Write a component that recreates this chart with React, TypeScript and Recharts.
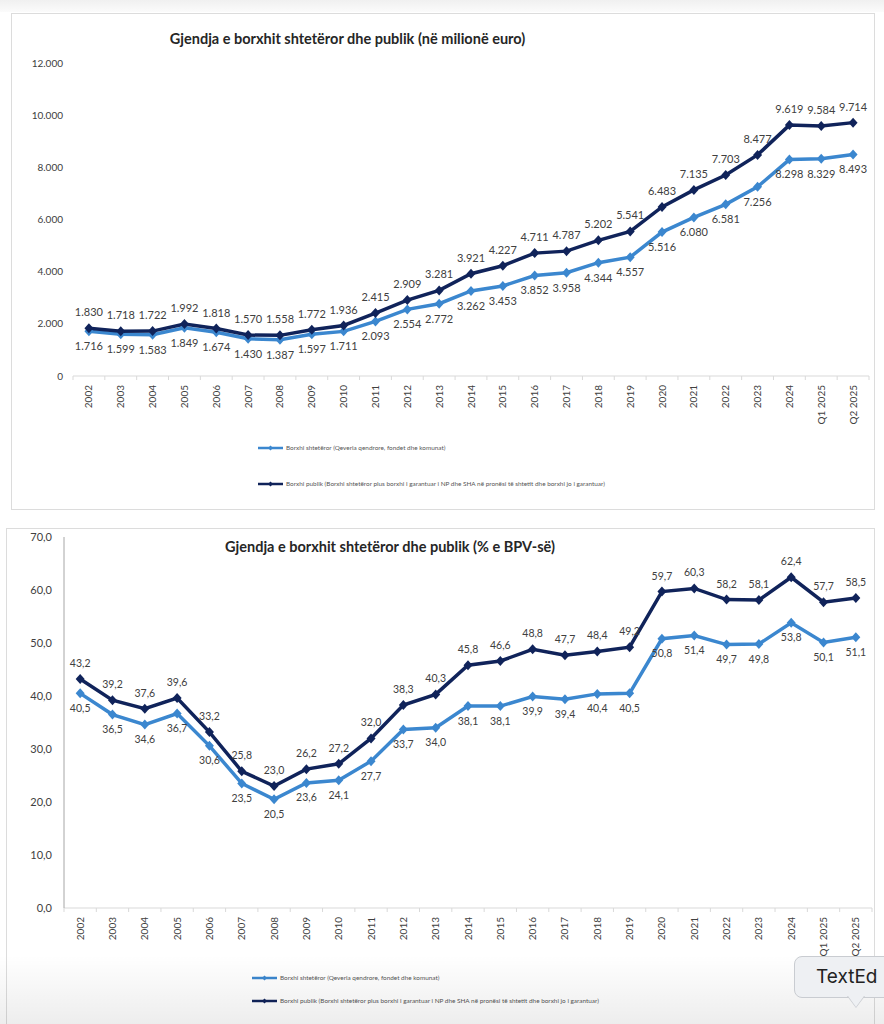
import { LineChart, Line, XAxis, YAxis, LabelList } from "recharts";

const categories = [
  "2002", "2003", "2004", "2005", "2006", "2007", "2008", "2009", "2010", "2011",
  "2012", "2013", "2014", "2015", "2016", "2017", "2018", "2019", "2020", "2021",
  "2022", "2023", "2024", "Q1 2025", "Q2 2025",
];

// millions of euro
const stateDebtEur = [
  1716, 1599, 1583, 1849, 1674, 1430, 1387, 1597, 1711, 2093, 2554, 2772, 3262,
  3453, 3852, 3958, 4344, 4557, 5516, 6080, 6581, 7256, 8298, 8329, 8493,
];
const publicDebtEur = [
  1830, 1718, 1722, 1992, 1818, 1570, 1558, 1772, 1936, 2415, 2909, 3281, 3921,
  4227, 4711, 4787, 5202, 5541, 6483, 7135, 7703, 8477, 9619, 9584, 9714,
];

// % of GDP
const stateDebtPct = [
  40.5, 36.5, 34.6, 36.7, 30.6, 23.5, 20.5, 23.6, 24.1, 27.7, 33.7, 34.0, 38.1,
  38.1, 39.9, 39.4, 40.4, 40.5, 50.8, 51.4, 49.7, 49.8, 53.8, 50.1, 51.1,
];
const publicDebtPct = [
  43.2, 39.2, 37.6, 39.6, 33.2, 25.8, 23.0, 26.2, 27.2, 32.0, 38.3, 40.3, 45.8,
  46.6, 48.8, 47.7, 48.4, 49.2, 59.7, 60.3, 58.2, 58.1, 62.4, 57.7, 58.5,
];

const eurTicks = [0, 2000, 4000, 6000, 8000, 10000, 12000];
const pctTicks = [0, 10, 20, 30, 40, 50, 60, 70];

const legendState = "Borxhi shtetëror (Qeveria qendrore, fondet dhe komunat)";
const legendPublic =
  "Borxhi publik (Borxhi shtetëror plus borxhi i garantuar i NP dhe SHA në pronësi të shtetit dhe borxhi jo i  garantuar)";

const eurRows = categories.map((c, i) => ({ cat: c, state: stateDebtEur[i], pub: publicDebtEur[i] }));
const pctRows = categories.map((c, i) => ({ cat: c, state: stateDebtPct[i], pub: publicDebtPct[i] }));

const DARK = "#10235a";
const LIGHT = "#3b87cf";
const TEXT = "#404040";

// plot widths -> category step (Excel puts points in the middle of each band)
const STEP1 = 796 / categories.length;
const STEP2 = 808 / categories.length;

const fmtThousands = (v: number) => String(v).replace(/\B(?=(\d{3})+(?!\d))/g, ".");
const fmtDecimal = (v: number) => v.toFixed(1).replace(".", ",");

const diamond = (color: string) => (p: any) => {
  const { cx, cy, index } = p;
  if (cx == null || cy == null) return <g key={index} />;
  return (
    <path
      key={index}
      d={`M${cx},${cy - 5}L${cx + 4.5},${cy}L${cx},${cy + 5}L${cx - 4.5},${cy}Z`}
      fill={color}
    />
  );
};

// category label rotated, tick marks between categories
const makeTick = (step: number, count: number) => (p: any) => {
  const { x, y, payload, index } = p;
  return (
    <g>
      <line x1={x - step / 2} x2={x - step / 2} y1={y} y2={y + 4} stroke="#d9d9d9" />
      {index === count - 1 && (
        <line x1={x + step / 2} x2={x + step / 2} y1={y} y2={y + 4} stroke="#d9d9d9" />
      )}
      <text
        transform={`translate(${x + 3.5},${y + 9}) rotate(-90)`}
        textAnchor="end"
        fontSize={10}
        fill={TEXT}
      >
        {payload.value}
      </text>
    </g>
  );
};

function LegendItem({ color, label, left, top }: { color: string; label: string; left: number; top: number }) {
  return (
    <div style={{ position: "absolute", left, top, display: "flex", alignItems: "center", gap: 3 }}>
      <svg width={25} height={6}>
        <line x1={0} x2={25} y1={3} y2={3} stroke={color} strokeWidth={2.5} />
        <path d="M12.5,0.5L15,3L12.5,5.5L10,3Z" fill={color} />
      </svg>
      <span style={{ fontSize: 6.4, color: "#555", whiteSpace: "nowrap" }}>{label}</span>
    </div>
  );
}

export default function App() {
  return (
    <div
      style={{
        position: "absolute",
        left: 0,
        top: 0,
        width: 884,
        height: 1024,
        background: "#fff",
        overflow: "hidden",
        fontFamily: "Lato, 'Open Sans', sans-serif",
      }}
    >
      <div
        style={{
          position: "absolute", left: 0, top: 0, width: 884, height: 12,
          background: "linear-gradient(#f0f0f0, #fbfbfb)",
        }}
      />

      {/* Chart 1 */}
      <div
        style={{
          position: "absolute", left: 11, top: 13, width: 864, height: 497,
          border: "1px solid #dcdcdc", boxSizing: "border-box",
        }}
      />
      <div
        style={{
          position: "absolute", left: 0, width: 695, top: 30, textAlign: "center",
          fontSize: 14.5, fontWeight: 700, color: "#262626",
        }}
      >
        Gjendja e borxhit shtetëror dhe publik (në milionë euro)
      </div>
      <div style={{ position: "absolute", left: 0, top: 0 }}>
        <LineChart width={884} height={520} data={eurRows} margin={{ top: 63, right: 15, left: 0, bottom: 84 }}>
          <XAxis
            dataKey="cat"
            interval={0}
            height={60}
            padding={{ left: STEP1 / 2, right: STEP1 / 2 }}
            axisLine={{ stroke: "#d9d9d9" }}
            tickLine={false}
            tickSize={0}
            tickMargin={0}
            tick={makeTick(STEP1, categories.length)}
          />
          <YAxis
            width={73}
            domain={[0, 12000]}
            ticks={eurTicks}
            axisLine={false}
            tickLine={false}
            tickSize={6}
            tickMargin={4}
            tickFormatter={fmtThousands}
            tick={{ fontSize: 10, fill: TEXT }}
          />
          <Line
            dataKey="state"
            stroke={LIGHT}
            strokeWidth={3.5}
            dot={diamond(LIGHT)}
            activeDot={false}
            isAnimationActive={false}
          >
            <LabelList dataKey="state" position="bottom" offset={11} formatter={fmtThousands} fontSize={11} fill={TEXT} />
          </Line>
          <Line
            dataKey="pub"
            stroke={DARK}
            strokeWidth={3.5}
            dot={diamond(DARK)}
            activeDot={false}
            isAnimationActive={false}
          >
            <LabelList dataKey="pub" position="top" offset={12} formatter={fmtThousands} fontSize={11} fill={TEXT} />
          </Line>
        </LineChart>
      </div>
      <LegendItem color={LIGHT} label={legendState} left={258} top={444} />
      <LegendItem color={DARK} label={legendPublic} left={258} top={480} />

      {/* Chart 2 */}
      <div
        style={{
          position: "absolute", left: 6, top: 528, width: 869, height: 520,
          border: "1px solid #dcdcdc", boxSizing: "border-box",
        }}
      />
      <div
        style={{
          position: "absolute", left: 0, width: 780, top: 538, textAlign: "center",
          fontSize: 14.5, fontWeight: 700, color: "#262626",
        }}
      >
        Gjendja e borxhit shtetëror dhe publik (% e BPV-së)
      </div>
      <div style={{ position: "absolute", left: 0, top: 520 }}>
        <LineChart width={884} height={504} data={pctRows} margin={{ top: 17, right: 12, left: 0, bottom: 56 }}>
          <XAxis
            dataKey="cat"
            interval={0}
            height={60}
            padding={{ left: STEP2 / 2, right: STEP2 / 2 }}
            axisLine={{ stroke: "#d9d9d9" }}
            tickLine={false}
            tickSize={0}
            tickMargin={0}
            tick={makeTick(STEP2, categories.length)}
          />
          <YAxis
            width={64}
            domain={[0, 70]}
            ticks={pctTicks}
            axisLine={{ stroke: "#a6a6a6" }}
            tickLine={false}
            tickSize={6}
            tickMargin={6}
            tickFormatter={fmtDecimal}
            tick={{ fontSize: 11, fill: TEXT }}
          />
          <Line
            dataKey="state"
            stroke={LIGHT}
            strokeWidth={3.5}
            dot={diamond(LIGHT)}
            activeDot={false}
            isAnimationActive={false}
          >
            <LabelList dataKey="state" position="bottom" offset={11} formatter={fmtDecimal} fontSize={10.5} fill={TEXT} />
          </Line>
          <Line
            dataKey="pub"
            stroke={DARK}
            strokeWidth={3.5}
            dot={diamond(DARK)}
            activeDot={false}
            isAnimationActive={false}
          >
            <LabelList dataKey="pub" position="top" offset={12} formatter={fmtDecimal} fontSize={10.5} fill={TEXT} />
          </Line>
        </LineChart>
      </div>
      <LegendItem color={LIGHT} label={legendState} left={252} top={974} />
      <LegendItem color={DARK} label={legendPublic} left={252} top={997} />

      <div
        style={{
          position: "absolute", left: 0, top: 955, width: 884, height: 69,
          background: "linear-gradient(rgba(0,0,0,0), rgba(0,0,0,0.07))",
          pointerEvents: "none",
        }}
      />

      {/* floating "TextEd" bubble seen in the screenshot */}
      <div
        style={{
          position: "absolute", left: 794, top: 956, width: 110, height: 42,
          background: "#eef0f3", border: "1px solid #c9ccd1", borderRadius: 8,
          boxSizing: "border-box", fontFamily: "Inter, sans-serif", fontSize: 19,
          color: "#222", paddingLeft: 21, lineHeight: "40px",
        }}
      >
        TextEd
      </div>
      <div
        style={{
          position: "absolute", left: 847, top: 996, width: 0, height: 0,
          borderLeft: "9px solid transparent", borderRight: "9px solid transparent",
          borderTop: "12px solid #c9ccd1",
        }}
      />
      <div
        style={{
          position: "absolute", left: 848, top: 996, width: 0, height: 0,
          borderLeft: "8px solid transparent", borderRight: "8px solid transparent",
          borderTop: "11px solid #eef0f3",
        }}
      />
    </div>
  );
}
